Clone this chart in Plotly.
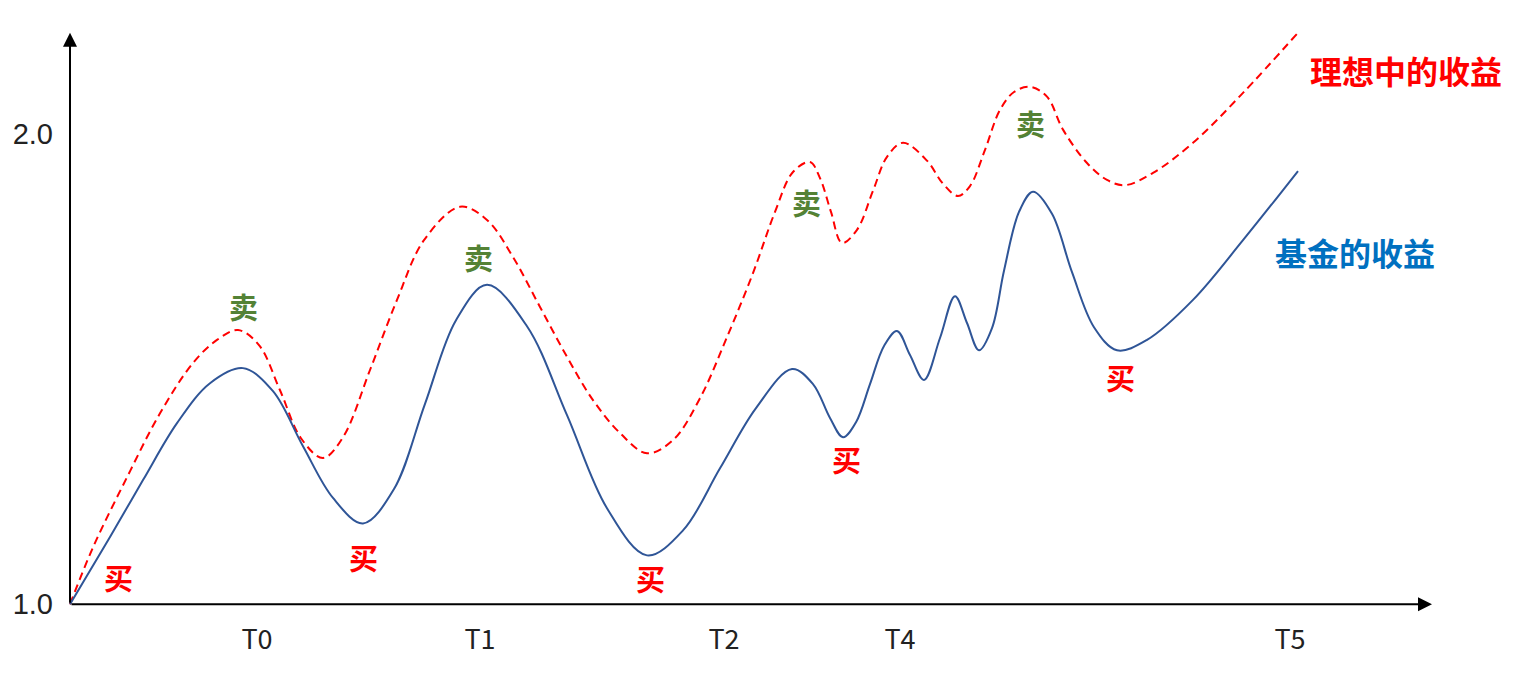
import plotly.graph_objects as go

# ---- data ----
fund_x = [0.00, 0.40, 0.73, 1.07, 1.40, 1.73, 2.03, 2.33, 2.63, 2.93, 3.24, 3.55, 3.86, 4.17,
          4.57, 4.97, 5.37, 5.77, 6.13, 6.50, 6.86, 7.22, 7.43, 7.60, 7.73, 7.86, 8.00, 8.14,
          8.27, 8.40, 8.54, 8.70, 8.85, 8.97, 9.09, 9.22, 9.34, 9.49, 9.63, 9.82, 10.02, 10.24,
          10.47, 10.77, 11.23, 11.73, 12.28]
fund_y = [1.000, 1.143, 1.264, 1.385, 1.470, 1.502, 1.453, 1.336, 1.226, 1.172, 1.245, 1.426, 1.604, 1.679,
          1.591, 1.402, 1.204, 1.104, 1.157, 1.289, 1.417, 1.500, 1.468, 1.396, 1.355, 1.387, 1.468, 1.549,
          1.581, 1.530, 1.477, 1.566, 1.655, 1.598, 1.540, 1.587, 1.709, 1.834, 1.877, 1.830, 1.706, 1.589,
          1.540, 1.562, 1.647, 1.774, 1.921]

ideal_x = [0.00, 0.23, 0.57, 0.90, 1.23, 1.47, 1.68, 1.89, 2.10, 2.31, 2.53, 2.73, 3.00, 3.27, 3.54,
           3.90, 4.17, 4.43, 4.70, 4.97, 5.23, 5.50, 5.77, 6.03, 6.30, 6.57, 6.83, 7.05, 7.23, 7.40,
           7.50, 7.61, 7.72, 7.87, 8.03, 8.17, 8.33, 8.57, 8.73, 8.88, 9.00, 9.15, 9.30, 9.44, 9.60,
           9.77, 9.93, 10.17, 10.37, 10.55, 10.83, 11.23, 11.73, 12.28]
ideal_y = [1.000, 1.121, 1.270, 1.406, 1.513, 1.562, 1.583, 1.551, 1.455, 1.353, 1.311, 1.355, 1.498, 1.647, 1.774,
           1.845, 1.817, 1.738, 1.632, 1.526, 1.434, 1.364, 1.321, 1.349, 1.438, 1.568, 1.704, 1.834, 1.919, 1.940,
           1.906, 1.834, 1.768, 1.796, 1.879, 1.951, 1.981, 1.943, 1.894, 1.868, 1.889, 1.966, 2.051, 2.089, 2.100,
           2.079, 2.009, 1.938, 1.902, 1.891, 1.917, 1.981, 2.087, 2.215]

tick_x = [1.87, 4.10, 6.54, 8.30, 12.20]
tick_text = ["T0", "T1", "T2", "T4", "T5"]
y_ticks = [1.0, 2.0]
y_tick_text = ["1.0", "2.0"]

signal_text = ["买", "卖", "买", "卖", "买", "卖", "买", "卖", "买"]
signal_x = [0.48, 1.73, 2.93, 4.08, 5.80, 7.36, 7.76, 9.60, 10.50]
signal_y = [1.057, 1.634, 1.100, 1.738, 1.055, 1.855, 1.309, 2.023, 1.483]

series_labels = ["理想中的收益", "基金的收益"]
label_x = [13.36, 12.85]
label_y = [2.136, 1.749]

RED = "#FF0000"
BLUE = "#2F5597"
GREEN = "#548235"
LBLUE = "#0070C0"
CJK = "Noto Sans CJK SC"

fig = go.Figure()
fig.add_trace(go.Scatter(x=ideal_x, y=ideal_y, mode="lines",
                         line=dict(color=RED, width=2, dash="8px,5px", shape="spline", smoothing=1.0),
                         hoverinfo="skip", showlegend=False))
fig.add_trace(go.Scatter(x=fund_x, y=fund_y, mode="lines",
                         line=dict(color=BLUE, width=2, shape="spline", smoothing=1.0),
                         hoverinfo="skip", showlegend=False))

# axis arrows
fig.add_annotation(x=13.62, y=1.0, ax=0, ay=1.0, xref="x", yref="y", axref="x", ayref="y",
                   text="", showarrow=True, arrowhead=2, arrowsize=1.4, arrowwidth=2,
                   arrowcolor="black", standoff=0, startstandoff=0)
fig.add_annotation(x=0, y=2.215, ax=0, ay=1.0, xref="x", yref="y", axref="x", ayref="y",
                   text="", showarrow=True, arrowhead=2, arrowsize=1.4, arrowwidth=2,
                   arrowcolor="black", standoff=0, startstandoff=0)

for t, x, y in zip(signal_text, signal_x, signal_y):
    fig.add_annotation(x=x, y=y, xref="x", yref="y", text="<b>" + t + "</b>", showarrow=False,
                       font=dict(family=CJK, size=29, color=RED if t == "买" else GREEN),
                       xanchor="center", yanchor="middle")

for t, x, y, c in zip(series_labels, label_x, label_y, [RED, LBLUE]):
    fig.add_annotation(x=x, y=y, xref="x", yref="y", text="<b>" + t + "</b>", showarrow=False,
                       font=dict(family=CJK, size=32, color=c),
                       xanchor="center", yanchor="middle")

fig.update_layout(
    width=1510, height=676,
    margin=dict(l=60, r=78, t=20, b=75, autoexpand=False),
    paper_bgcolor="white", plot_bgcolor="white",
    xaxis=dict(range=[-0.02, 13.7], showgrid=False, zeroline=False, showline=False, automargin=False,
               tickvals=tick_x, ticktext=tick_text, ticks="", ticklabelstandoff=12,
               tickfont=dict(family=CJK, size=27, color="#222222"), fixedrange=True),
    yaxis=dict(range=[0.99, 2.225], showgrid=False, zeroline=False, showline=False, automargin=False,
               tickvals=y_ticks, ticktext=y_tick_text, ticks="", ticklabelstandoff=14,
               tickfont=dict(family="Liberation Sans", size=29, color="#222222"), fixedrange=True),
)

fig.write_html("out.html")
